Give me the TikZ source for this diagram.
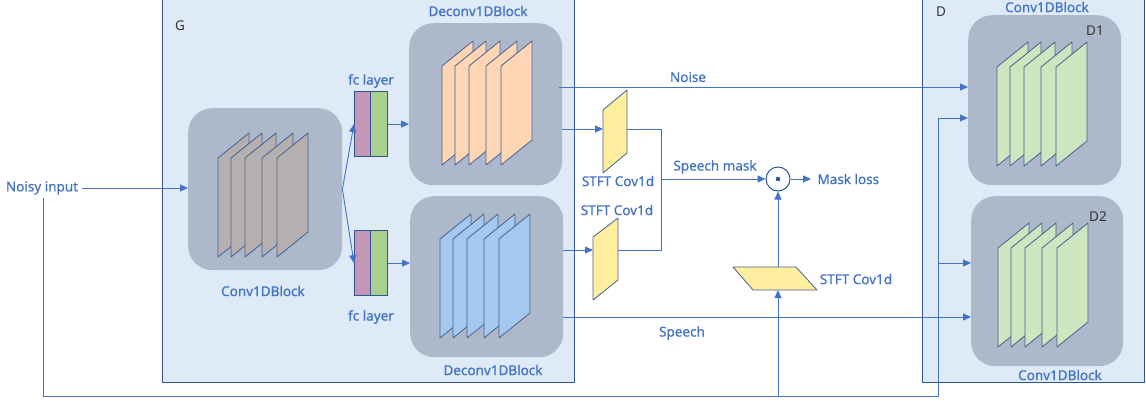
\documentclass[tikz,border=0pt]{standalone}
\usepackage{fontspec}
\setmainfont{Noto Sans}
\newfontfamily\lblfont{Noto Sans}[FakeBold=0.7]
\usetikzlibrary{arrows.meta,calc}

\definecolor{txtblue}{HTML}{4472C4}
\definecolor{lnblue}{HTML}{4472C4}
\definecolor{panelfill}{HTML}{DEEAF6}
\definecolor{paneledge}{HTML}{2F5597}
\definecolor{blockfill}{HTML}{ADB9CA}
\definecolor{plateedge}{HTML}{44618F}
\definecolor{grayplate}{HTML}{B5B0AF}
\definecolor{orangeplate}{HTML}{FFD5B5}
\definecolor{blueplate}{HTML}{A5C9EE}
\definecolor{greenplate}{HTML}{CDE6BF}
\definecolor{stftfill}{HTML}{FFEE9E}
\definecolor{fcpink}{HTML}{C497B6}
\definecolor{fcgreen}{HTML}{A9D18E}

% a stack of five slanted feature maps, first plate's lower left corner at (#1,#2)
\newcommand{\featstack}[3]{%
  \foreach \o in {0,13,27,44,59}{%
    \filldraw[plate, fill=#3] (#1+\o,#2) -- ++(0,-99) -- ++(31,-25) -- ++(0,99) -- cycle;
  }%
}

\tikzset{
  panel/.style={draw=paneledge, line width=1.2pt, fill=panelfill, inner sep=0pt, anchor=north west},
  blockbox/.style={fill=blockfill, rounded corners=24pt, inner sep=0pt, anchor=north west},
  plate/.style={draw=plateedge, line width=0.8pt, line join=round},
  fcbox/.style={draw=paneledge, line width=1.2pt, inner sep=0pt, anchor=north west, minimum height=65pt},
  stft/.style={draw=plateedge, line width=0.8pt, fill=stftfill, line join=round},
  lbl/.style={text=txtblue, font=\lblfont\fontsize{13.5}{16}\selectfont},
  tag/.style={text=black!80, font=\fontsize{13.5}{16}\selectfont},
  conn/.style={draw=lnblue, line width=0.9pt},
  arr/.style={conn, -{Triangle[length=8pt,width=7pt]}},
}

\begin{document}
\begin{tikzpicture}[x=1pt,y=-1pt]
\useasboundingbox (0,0) rectangle (1146,401);

% generator and discriminator panels
\node[panel, minimum width=412pt, minimum height=388pt] (G) at (162,-6) {};
\node[panel, minimum width=222pt, minimum height=388pt] (D) at (922,-6) {};
\node[tag] (Gtag) at (180,26) {G};
\node[tag] (Dtag) at (941,12) {D};

% blocks
\node[blockbox, minimum width=154pt, minimum height=162pt] (enc) at (188,108) {};
\node[blockbox, minimum width=153pt, minimum height=162pt] (dec1) at (409,23) {};
\node[blockbox, minimum width=153pt, minimum height=161pt] (dec2) at (410,196) {};
\node[blockbox, minimum width=153pt, minimum height=170pt] (d1) at (968,15) {};
\node[blockbox, minimum width=152pt, minimum height=170pt] (d2) at (971,196) {};

\featstack{218}{257}{grayplate}
\featstack{442}{165}{orangeplate}
\featstack{440}{338}{blueplate}
\featstack{997}{166}{greenplate}
\featstack{998}{347}{greenplate}

% fully connected layers
\node[fcbox, fill=fcpink, minimum width=16pt] (fc1p) at (354,91) {};
\node[fcbox, fill=fcgreen, minimum width=17pt] (fc1g) at (370,91) {};
\node[fcbox, fill=fcpink, minimum width=16pt] (fc2p) at (354,230) {};
\node[fcbox, fill=fcgreen, minimum width=17pt] (fc2g) at (370,230) {};

% STFT convolutions
\filldraw[stft] (603,173) -- (603,110) -- (627,90) -- (627,153) -- cycle;
\coordinate (s1in) at (603,129);
\coordinate (s1out) at (627,129);
\filldraw[stft] (593,300) -- (593,237) -- (618,218) -- (618,280) -- cycle;
\coordinate (s2in) at (593,250);
\coordinate (s2out) at (618,250);
\filldraw[stft] (733,267) -- (796,267) -- (817,290) -- (753,290) -- cycle;
\coordinate (s3top) at (778,267);
\coordinate (s3bot) at (778,290);

% element-wise product
\node[circle, draw=paneledge, line width=1pt, fill=white, minimum size=24pt, inner sep=0pt] (mul) at (778,179) {};
\fill[paneledge] (mul.center) circle (2.3pt);

% labels
\node[lbl] (noisy) at (42,188) {Noisy input};
\node[lbl] at (263,291) {Conv1DBlock};
\node[lbl] at (371,81) {fc layer};
\node[lbl] at (371,317) {fc layer};
\node[lbl] at (478,11) {Deconv1DBlock};
\node[lbl] at (493,370) {Deconv1DBlock};
\node[lbl] at (688,77) {Noise};
\node[lbl] at (682,333) {Speech};
\node[lbl] at (715,167) {Speech mask};
\node[lbl, anchor=west] (loss) at (814,179) {Mask loss};
\node[lbl] at (618,181) {STFT Cov1d};
\node[lbl] at (617,210) {STFT Cov1d};
\node[lbl] at (856,279) {STFT Cov1d};
\node[lbl] at (1047,7) {Conv1DBlock};
\node[lbl] at (1060,375) {Conv1DBlock};
\node[tag] at (1095,31) {D1};
\node[tag] at (1098,217) {D2};

% connectors
\coordinate (fbA) at (43,396);
\coordinate (fbB) at (938,396);
\coordinate (fbC) at (938,118);
\coordinate (fbD) at (938,263);
\coordinate (sm) at (661,179);

\draw[arr] (noisy.east) -- (noisy.east -| enc.west);
\draw[conn] (noisy.south -| fbA) -- (fbA) -- (fbB) -- (fbC);
\draw[arr] (fbC) -- (fbC -| d1.west);
\draw[arr] (fbD) -- (fbD -| d2.west);
\draw[arr] (s3top |- fbB) -- (s3bot);

\draw[arr] (enc.east) -- (fc1p.west);
\draw[arr] (enc.east) -- (fc2p.west);
\draw[arr] (fc1g.east) -- (fc1g.east -| dec1.west);
\draw[arr] (fc2g.east) -- (fc2g.east -| dec2.west);

\draw[arr] ([xshift=-3pt]dec1.east |- 0,87) -- (d1.west |- 0,87);
\draw[arr] (dec2.east |- 0,317) -- (d2.west |- 0,317);
\draw[arr] (dec1.east |- s1in) -- (s1in);
\draw[arr] (dec2.east |- s2in) -- (s2in);
\draw[conn] (s1out) -- (s1out -| sm) -- (s2out -| sm) -- (s2out);
\draw[arr] (sm) -- (mul.west);
\draw[arr] (s3top) -- (mul.south);
\draw[arr] (mul.east) -- ([xshift=-3pt]loss.west);

\end{tikzpicture}
\end{document}
